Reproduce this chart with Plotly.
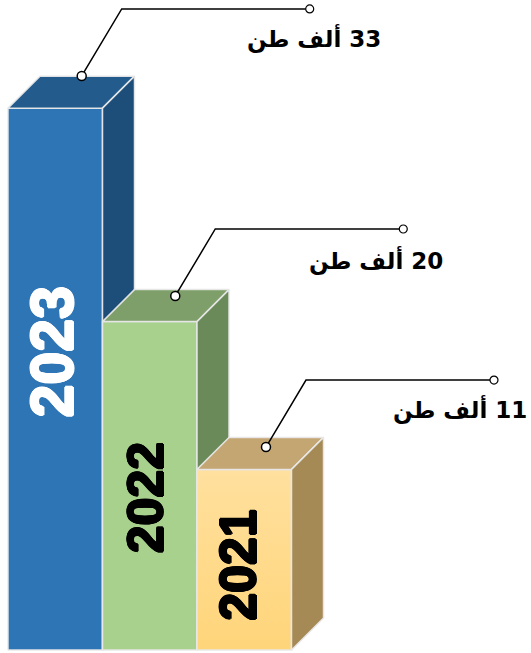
import plotly.graph_objects as go

# ---- data ----
years = ["2023", "2022", "2021"]
values = [33, 20, 11]
unit = "ألف طن"

# ---- style ----
W, H = 531, 653
OFF = 0                          # page offset (body margin removed below)
PX, PY = 94.5, 16.42            # pixels per data unit (x, y)
DX, DY = 32 / PX, 32 / PY       # 3D depth in data units
front_colors = ["#2E75B6", "#A9D18E", None]
top_colors = ["#235B8C", "#7E9F69", "#C4A673"]
side_colors = ["#1D4E79", "#6A8A5A", "#A68A56"]
year_text_colors = ["white", "black", "black"]
year_font_sizes = [59, 50, 50]
year_text_x = [0.47, 0.46, 0.44]
year_text_y = [0.55, 0.465, 0.47]
dot_dx = [0.78, 0.77, 0.73]
dot_dy = [1.96, 1.56, 1.36]
label_dx = [3.97, 3.62, 3.51]
label_dy = [4.27, 3.75, 3.70]
EDGE = dict(color="rgba(232,232,232,0.95)", width=1.5)


def thick(c, d=1.1):
    return ", ".join("%spx %spx 0 %s" % (a, b, c)
                     for a, b in [(d, 0), (-d, 0), (0, d), (0, -d),
                                  (d * 0.7, d * 0.7), (-d * 0.7, d * 0.7),
                                  (d * 0.7, -d * 0.7), (-d * 0.7, -d * 0.7)])


fig = go.Figure()

for i, (yr, v) in enumerate(zip(years, values)):
    x0, x1 = i, i + 1
    # front face
    fx = [x0, x1, x1, x0, x0]
    fy = [0, 0, v, v, 0]
    if front_colors[i] is None:
        fig.add_trace(go.Scatter(x=fx, y=fy, mode="lines", fill="toself", line=EDGE,
                                 fillgradient=dict(type="vertical",
                                                   colorscale=[[0, "#FFD57A"], [1, "#FFE09E"]]),
                                 hoverinfo="skip", showlegend=False))
    else:
        fig.add_trace(go.Scatter(x=fx, y=fy, mode="lines", fill="toself", line=EDGE,
                                 fillcolor=front_colors[i], hoverinfo="skip", showlegend=False))
    # top face
    fig.add_trace(go.Scatter(x=[x0, x1, x1 + DX, x0 + DX, x0], y=[v, v, v + DY, v + DY, v],
                             mode="lines", fill="toself", line=EDGE, fillcolor=top_colors[i],
                             hoverinfo="skip", showlegend=False))
    # side face
    fig.add_trace(go.Scatter(x=[x1, x1 + DX, x1 + DX, x1, x1], y=[0, DY, v + DY, v, 0],
                             mode="lines", fill="toself", line=EDGE, fillcolor=side_colors[i],
                             hoverinfo="skip", showlegend=False))
    # year text inside bar
    fig.add_annotation(x=x0 + year_text_x[i], y=v * year_text_y[i], text="<b>%s</b>" % yr,
                       textangle=-90, showarrow=False, xanchor="center", yanchor="middle",
                       font=dict(family="Liberation Sans, Arial", size=year_font_sizes[i],
                                 color=year_text_colors[i],
                                 shadow=thick(year_text_colors[i])))

# callouts drawn on top
for i, (yr, v) in enumerate(zip(years, values)):
    dx0 = i + dot_dx[i]
    dy0 = v + dot_dy[i]
    ex = dx0 + 40 / PX
    ey = dy0 + 67 / PY
    tx = ex + 188 / PX
    fig.add_trace(go.Scatter(x=[dx0, ex, tx], y=[dy0, ey, ey], mode="lines",
                             line=dict(color="black", width=1.5), cliponaxis=False,
                             hoverinfo="skip", showlegend=False))
    fig.add_trace(go.Scatter(x=[dx0], y=[dy0], mode="markers", cliponaxis=False,
                             marker=dict(size=9, color="white", line=dict(color="black", width=1.5)),
                             hoverinfo="skip", showlegend=False))
    fig.add_trace(go.Scatter(x=[tx], y=[ey], mode="markers", cliponaxis=False,
                             marker=dict(size=8, color="white", line=dict(color="black", width=1.2)),
                             hoverinfo="skip", showlegend=False))
    fig.add_annotation(x=i + label_dx[i], y=v + label_dy[i],
                       text="<b>\u202B%d %s\u202C</b>" % (v, unit),
                       showarrow=False, xanchor="right", yanchor="middle",
                       font=dict(family="DejaVu Sans", size=23, color="black"))

fig.update_layout(
    width=W, height=H,
    margin=dict(l=0, r=0, t=0, b=0),
    paper_bgcolor="white", plot_bgcolor="white",
    xaxis=dict(range=[-8 / PX, (W - 8) / PX], visible=False, fixedrange=True),
    yaxis=dict(range=[(-(H + OFF) + 650) / PY, (650 - OFF) / PY], visible=False, fixedrange=True),
    showlegend=False,
)

fig.write_html("out.html", config={"displayModeBar": False},
               post_script="document.body.style.margin='0';document.body.style.overflow='hidden';")
